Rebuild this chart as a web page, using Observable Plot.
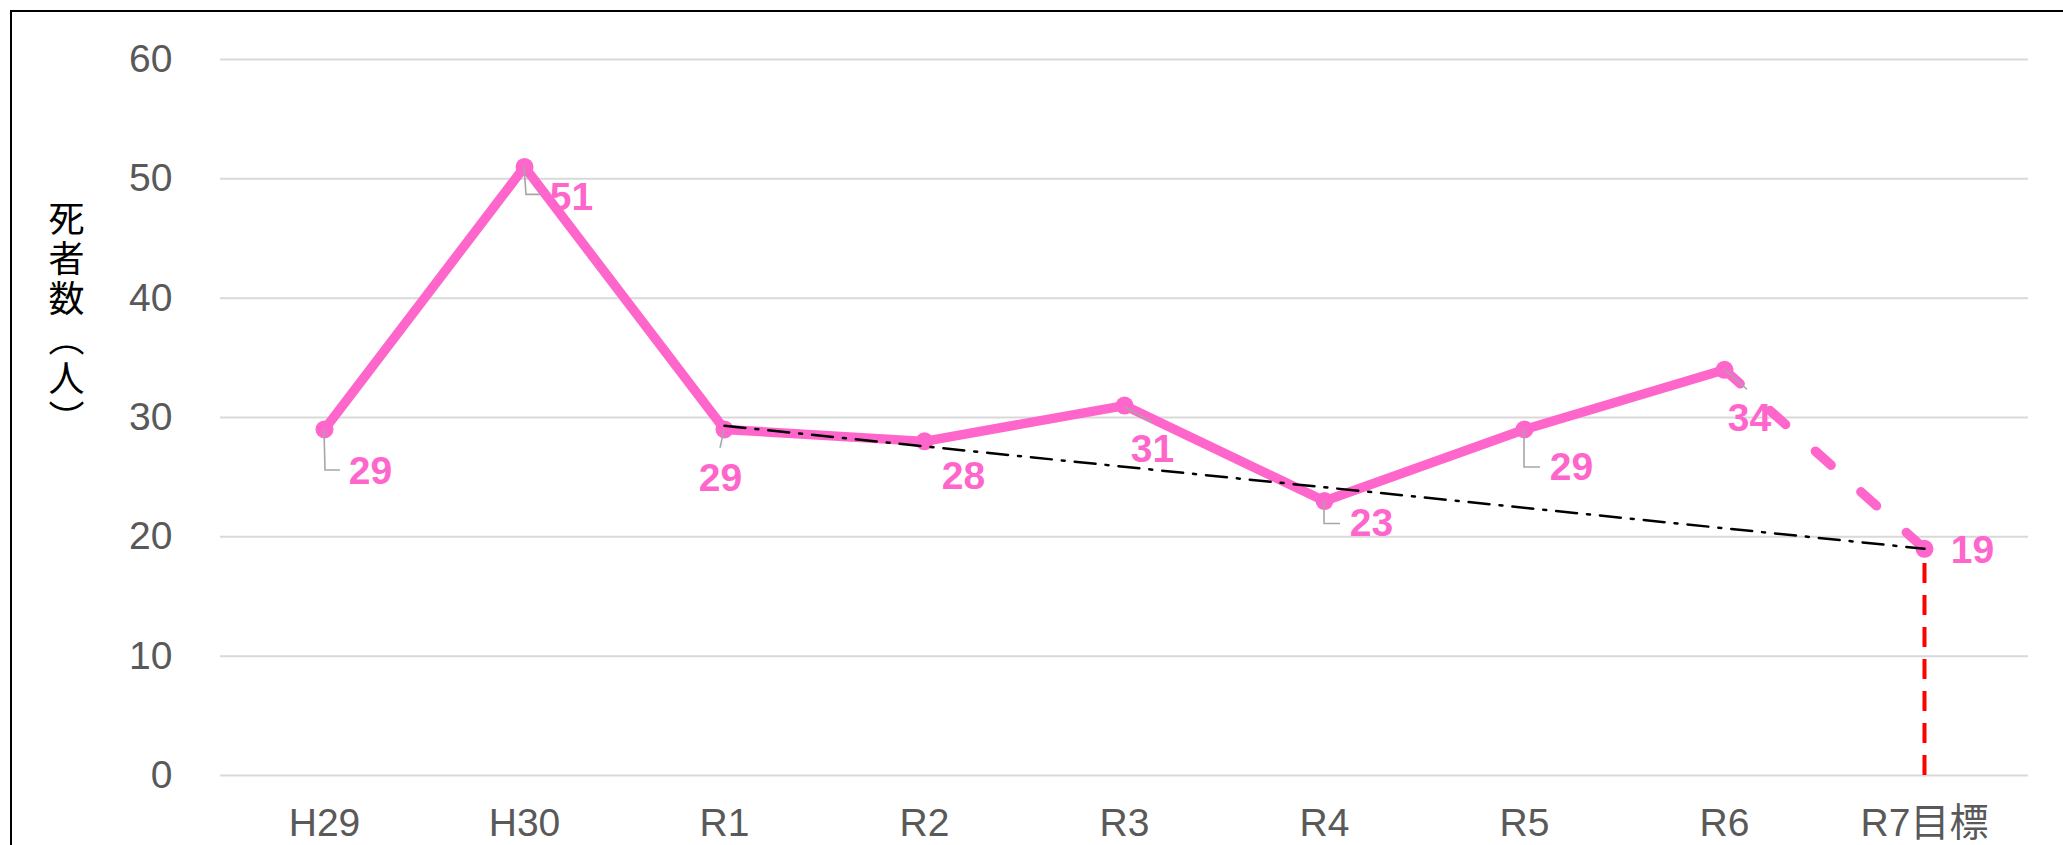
<!DOCTYPE html>
<html>
<head>
<meta charset="utf-8">
<script src="https://cdn.jsdelivr.net/npm/d3@7"></script>
<script src="https://cdn.jsdelivr.net/npm/@observablehq/plot@0.6"></script>
<style>
  html, body { margin: 0; padding: 0; background: #fff; overflow: hidden; }
  #wrap { position: relative; width: 2063px; height: 845px; }
  #frame { position: absolute; left: 10px; top: 10px; width: 3000px; height: 3000px;
           border-left: 2px solid #000; border-top: 2px solid #000; pointer-events: none; }
</style>
</head>
<body>
<div id="wrap"><div id="frame"></div></div>
<script>
// ---- data ----
const years = ["H29", "H30", "R1", "R2", "R3", "R4", "R5", "R6", "R7目標"];
const deaths = [29, 51, 29, 28, 31, 23, 29, 34, 19];
const trendYears = ["R1", "R7目標"];
const trendValues = [29.3, 19];
const targetYear = "R7目標";
const targetValue = 19;
const yTicks = [0, 10, 20, 30, 40, 50, 60];
const yTitle = "死者数（人）";

// ---- label layout (pixel offsets, style only) ----
const labelDx = [46, 47, -4, 39, 28, 47, 47, 25, 48];
const labelDy = [42, 31, 49, 35, 44, 22, 38, 49, 2];
const leaderPaths = {
  "H29": [[0, 1], [1, 41], [16, 41]],
  "H30": [[0, 0], [2, 28], [16, 28]],
  "R1": [[0, 1], [-4, 19]],
  "R3": [[1, 2], [28, 17]],
  "R4": [[0, 0], [0, 23], [16, 23]],
  "R5": [[0, 0], [0, 38], [16, 38]],
  "R6": [[0, 0], [23, 20]]
};

const PINK = "#FF66CC";
const rows = years.map((y, i) => ({year: y, value: deaths[i]}));
const solidRows = rows.slice(0, 8);
const dashRows = rows.slice(7);
const trendRows = trendYears.map((y, i) => ({year: y, value: trendValues[i]}));

const chart = Plot.plot({
  width: 2063,
  height: 845,
  marginLeft: 220,
  marginRight: 35,
  marginTop: 59,
  marginBottom: 70,
  style: {fontFamily: "'Liberation Sans', Arial, 'Noto Sans CJK JP', sans-serif", fontSize: "39px", color: "#595959", background: "transparent"},
  x: {type: "point", domain: years, padding: 0.5},
  y: {domain: [0, 60]},
  marks: [
    Plot.ruleY(yTicks, {stroke: "#D9D9D9", strokeWidth: 2}),
    Plot.axisY({ticks: yTicks, tickSize: 0, tickPadding: 48, label: null, fontSize: 39, fill: "#595959"}),
    Plot.axisX({tickSize: 0, tickPadding: 33, label: null, fontSize: 39, fill: "#595959"}),
    Plot.text([yTitle], {frameAnchor: "left", dx: -154, dy: -109, fontSize: 36,
      fill: "#000", fontFamily: "'Noto Sans CJK JP', sans-serif"}),
    Plot.ruleX([{year: targetYear, value: targetValue}], {x: "year", y1: 0, y2: "value",
      stroke: "#FF0000", strokeWidth: 4, strokeDasharray: "20,12"}),
    Plot.line(solidRows, {x: "year", y: "value", stroke: PINK, strokeWidth: 9.5,
      strokeLinejoin: "round", strokeLinecap: "round"}),
    Plot.line(dashRows, {x: "year", y: "value", stroke: PINK, strokeWidth: 9.5,
      strokeLinecap: "round", strokeDasharray: "21,40"}),
    Plot.dot(rows, {x: "year", y: "value", r: 9, fill: PINK}),
    Plot.line(trendRows, {x: "year", y: "value", stroke: "#000", strokeWidth: 2.5,
      strokeDasharray: "21,10,3,10"}),
    ...rows.map((d, i) => Plot.text([d], {x: "year", y: "value", text: d => String(d.value),
      dx: labelDx[i], dy: labelDy[i], fill: PINK, fontWeight: "bold", fontSize: 39,
      fontFamily: "'Liberation Sans', Arial, sans-serif"}))
  ]
});

// vertical writing for the y-axis title
d3.select(chart).selectAll("text").filter(function() { return this.textContent === yTitle; })
  .attr("dy", null)
  .style("writing-mode", "vertical-rl")
  .style("letter-spacing", "4px")
  .attr("text-anchor", "middle");

// leader lines (gray connectors from points to labels)
const xs = chart.scale("x"), ys = chart.scale("y");
const g = d3.select(chart).append("g").attr("fill", "none").attr("stroke", "#A6A6A6").attr("stroke-width", 1.6);
rows.forEach(d => {
  const p = leaderPaths[d.year];
  if (!p) return;
  const px = xs.apply(d.year), py = ys.apply(d.value);
  g.append("path").attr("d", "M" + p.map(([dx, dy]) => (px + dx) + "," + (py + dy)).join("L"));
});

document.getElementById("wrap").prepend(chart);
chart.style.position = "absolute";
chart.style.left = "0px";
chart.style.top = "0px";
</script>
</body>
</html>
